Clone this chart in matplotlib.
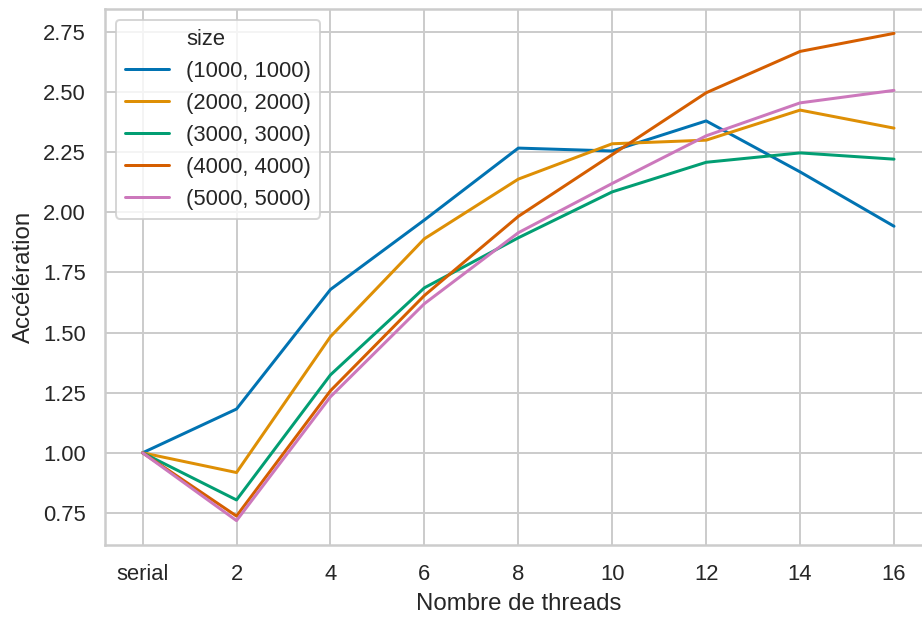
import matplotlib
matplotlib.use("Agg")
import matplotlib.pyplot as plt
import seaborn as sns
from matplotlib.lines import Line2D

THREADS = ["serial", "2", "4", "6", "8", "10", "12", "14", "16"]
SIZES = ["(1000, 1000)", "(2000, 2000)", "(3000, 3000)", "(4000, 4000)", "(5000, 5000)"]

speedup_1000 = [1.00, 1.182, 1.679, 1.968, 2.267, 2.255, 2.380, 2.168, 1.942]
speedup_2000 = [1.00, 0.918, 1.483, 1.890, 2.138, 2.285, 2.300, 2.425, 2.350]
speedup_3000 = [1.00, 0.804, 1.324, 1.686, 1.894, 2.085, 2.208, 2.247, 2.221]
speedup_4000 = [1.00, 0.737, 1.258, 1.654, 1.983, 2.240, 2.497, 2.669, 2.744]
speedup_5000 = [1.00, 0.718, 1.233, 1.620, 1.915, 2.120, 2.318, 2.455, 2.507]

SERIES = [speedup_1000, speedup_2000, speedup_3000, speedup_4000, speedup_5000]


def main():
    sns.set_theme(style="whitegrid", palette="colorblind")
    plt.rcParams["font.family"] = ["Liberation Sans", "DejaVu Sans"]
    colors = sns.color_palette("colorblind")

    dpi = 144
    fig = plt.figure(figsize=(922 / dpi, 617 / dpi), dpi=dpi)
    ax = fig.add_axes([0.1139, 0.1167, 0.8965, 0.8687])

    for i, (label, values) in enumerate(zip(SIZES, SERIES)):
        ax.plot(THREADS, values, color=colors[i], linewidth=1.5, label=label)

    ax.set_xlabel("Nombre de threads")
    ax.set_ylabel("Accélération")

    handles, labels = ax.get_legend_handles_labels()
    title_handle = Line2D([], [], linestyle="none")
    ax.legend([title_handle] + handles, ["size"] + labels, loc="upper left")

    fig.savefig("out.png", dpi=dpi)
    plt.close(fig)


if __name__ == "__main__":
    main()
